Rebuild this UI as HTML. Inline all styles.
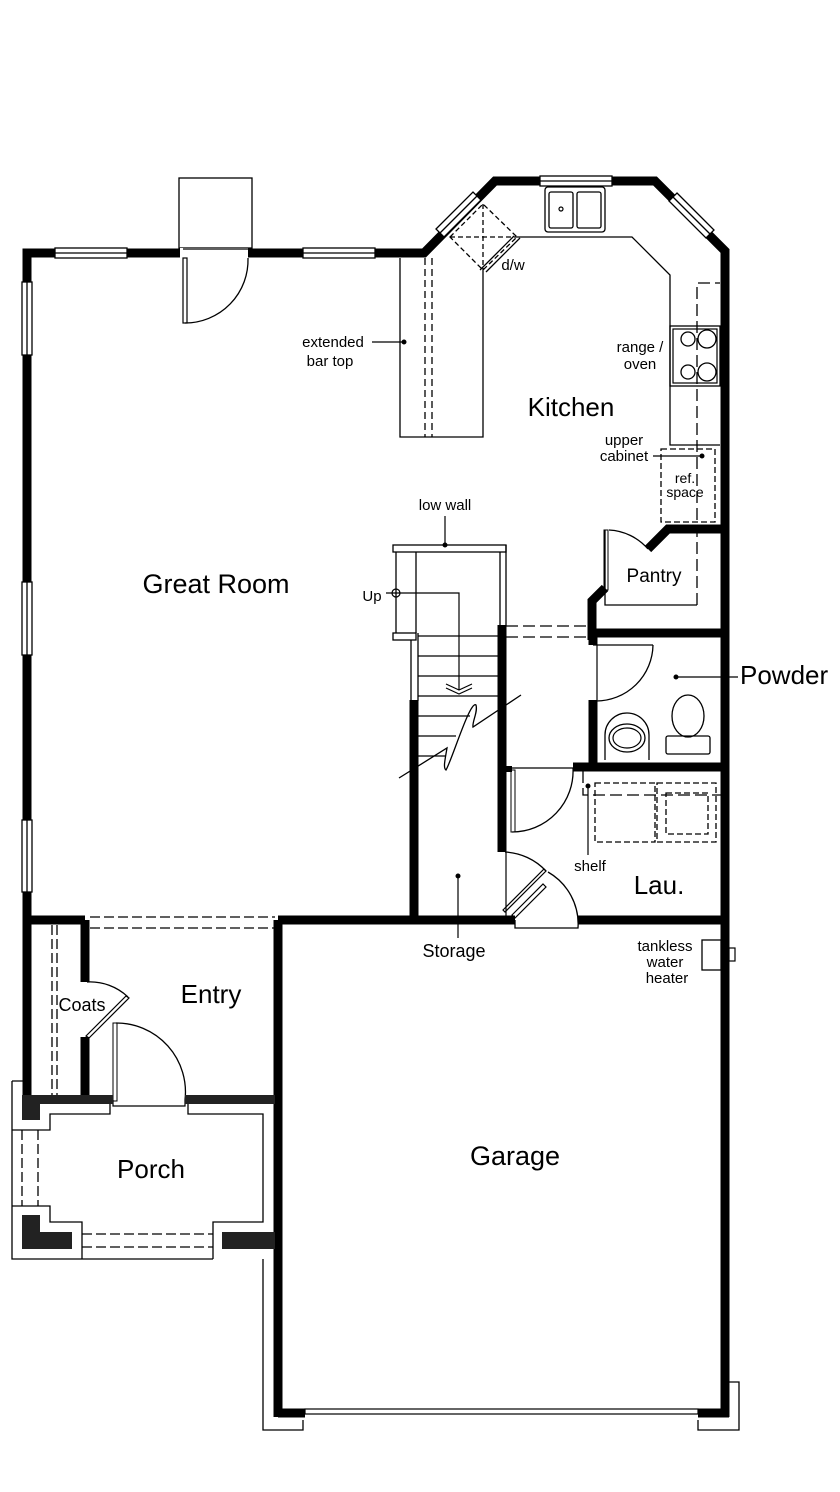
<!DOCTYPE html>
<html><head><meta charset="utf-8"><style>
html,body{margin:0;padding:0;background:#fff;}
svg{display:block;}
text{font-family:"Liberation Sans",sans-serif;fill:#000;}
</style></head><body>
<svg width="840" height="1492" viewBox="0 0 840 1492" xmlns="http://www.w3.org/2000/svg">
<g fill="none" stroke="#000">
<path d="M27 920 V253 H424 L495 181 H655 L725 251 V1417" stroke-width="9" stroke-linejoin="miter"/>
<g stroke-width="1.3" fill="#fff">
<rect x="55" y="248" width="72" height="10"/><line x1="55" y1="253" x2="127" y2="253"/>
<rect x="303" y="248" width="72" height="10"/><line x1="303" y1="253" x2="375" y2="253"/>
<rect x="22" y="282" width="10" height="73"/><line x1="27" y1="282" x2="27" y2="355"/>
<rect x="22" y="582" width="10" height="73"/><line x1="27" y1="582" x2="27" y2="655"/>
<rect x="22" y="820" width="10" height="72"/><line x1="27" y1="820" x2="27" y2="892"/>
<rect x="540" y="176" width="72" height="10"/><line x1="540" y1="181" x2="612" y2="181"/>
<path d="M436 229 L473 192 L481 200 L444 237 Z"/><line x1="440" y1="233" x2="477" y2="196"/>
<path d="M677 193 L714 230 L706 238 L669 201 Z"/><line x1="673" y1="197" x2="710" y2="234"/>
</g>
<rect x="179" y="178" width="73" height="70" stroke-width="1.3"/>
<rect x="180" y="248" width="68" height="10" fill="#fff" stroke="none"/>
<line x1="183" y1="249" x2="248" y2="249" stroke-width="1.3"/>
<rect x="183" y="258" width="4" height="65" stroke-width="1.2"/>
<path d="M185 323 A63 63 0 0 0 248 258" stroke-width="1.3"/>
<path d="M400 258 V437 H483 V270" stroke-width="1.3"/>
<path d="M425 258 V437 M432 258 V437" stroke-width="1.3" stroke-dasharray="7,4"/>
<path d="M450 237 L483 204 L517 237 L483 270 Z M450 237 H517 M483 204 V270" stroke-width="1.3" stroke-dasharray="5,3"/>
<path d="M480 270 L514 236 M486 272 L520 238" stroke-width="1.3"/>
<path d="M517 237 H632 L670 275 V445 H720" stroke-width="1.3"/>
<rect x="545" y="187" width="60" height="45" rx="3" stroke-width="1.3"/>
<rect x="549" y="192" width="24" height="36" rx="2" stroke-width="1.3"/>
<rect x="577" y="192" width="24" height="36" rx="2" stroke-width="1.3"/>
<circle cx="561" cy="209" r="2" stroke-width="1.2"/>
<rect x="670" y="326" width="50" height="60" stroke-width="1.3"/>
<rect x="673" y="329" width="44" height="54" stroke-width="1.2"/>
<circle cx="688" cy="339" r="7" stroke-width="1.3"/><circle cx="707" cy="339" r="9" stroke-width="1.3"/>
<circle cx="688" cy="372" r="7" stroke-width="1.3"/><circle cx="707" cy="372" r="9" stroke-width="1.3"/>
<path d="M697 605 V283 H720" stroke-width="1.3" stroke-dasharray="12,5"/>
<rect x="661" y="449" width="54" height="73" stroke-width="1.3" stroke-dasharray="6,3"/>
<line x1="653" y1="456" x2="702" y2="456" stroke-width="1.2"/>
<circle cx="702" cy="456" r="2" fill="#000"/>
<path d="M725 529 H668 L648 549 M605 588 L592 601 V640" stroke-width="9"/>
<path d="M697 605 H605 V530" stroke-width="1.3"/>
<path d="M609 530 A55 55 0 0 1 648 549" stroke-width="1.3"/>
<rect x="604" y="530" width="4" height="60" stroke-width="1"/>
<path d="M590 633 H725 M593 633 V645 M593 700 V767 M573 767 H725" stroke-width="9"/>
<path d="M593 645 H653" stroke-width="1.3"/>
<path d="M597 645 V700" stroke-width="1.2"/>
<path d="M653 645 A57 57 0 0 1 596 701" stroke-width="1.3"/>
<ellipse cx="688" cy="716" rx="16" ry="21" stroke-width="1.3"/>
<rect x="666" y="736" width="44" height="18" rx="2" stroke-width="1.3"/>
<path d="M605 760 V735 A22 22 0 0 1 649 735 V760" stroke-width="1.3"/>
<ellipse cx="627" cy="738" rx="18" ry="14" stroke-width="1.3"/>
<ellipse cx="627" cy="738" rx="14" ry="10" stroke-width="1.2"/>
<line x1="676" y1="677" x2="738" y2="677" stroke-width="1.2"/><circle cx="676" cy="677" r="2" fill="#000"/>
<rect x="393" y="545" width="113" height="7" stroke-width="1.3"/>
<path d="M500 552 V626 M506 545 V626" stroke-width="1.3"/>
<path d="M396 552 V633 M416 552 V633" stroke-width="1.3"/>
<rect x="393" y="633" width="23" height="7" stroke-width="1.3"/>
<path d="M411 640 V701 M418 633 V701" stroke-width="1.3"/>
<path d="M418 636 H500 M418 656 H500 M418 676 H500 M418 696 H500 M418 716 H470 M418 736 H456 M418 756 H446" stroke-width="1.3"/>
<path d="M399 778 L447 748 C445 760 443 768 446 770 C452 760 470 700 476 705 C478 712 472 722 473 727 L521 695" stroke-width="1.3"/>
<circle cx="396" cy="593" r="4" stroke-width="1.2"/>
<path d="M386 593 H459 V690" stroke-width="1.2"/>
<path d="M446 688 L459 694 L472 688 M446 684 L459 690 L472 684" stroke-width="1.2"/>
<line x1="445" y1="516" x2="445" y2="545" stroke-width="1.2"/><circle cx="445" cy="545" r="2" fill="#000"/>
<path d="M414 700 V920 M502 625 V852" stroke-width="9"/>
<path d="M506 626 H590 M506 637 H590" stroke-width="1.3" stroke-dasharray="12,5"/>
<rect x="511" y="770" width="4" height="62" stroke-width="1"/>
<path d="M506 768 H573 M573 768 A61 61 0 0 1 512 832" stroke-width="1.3"/>
<rect x="502" y="766" width="10" height="6" fill="#000" stroke="none"/>
<path d="M505 852 A60 60 0 0 1 546 871" stroke-width="1.3"/>
<path d="M503 910 L544 869 L546 871 L505 912 Z" stroke-width="1.2"/>
<path d="M515 917 L546 886 L549 889 L518 920 Z" stroke-width="1.2" transform="translate(-3,-2)"/>
<path d="M548 872 A60 60 0 0 1 578 928 H515 V920" stroke-width="1.3"/>
<line x1="506" y1="852" x2="506" y2="916" stroke-width="1.2"/>
<rect x="595" y="783" width="60" height="59" stroke-width="1.3" stroke-dasharray="6,3"/>
<rect x="657" y="783" width="59" height="59" stroke-width="1.3" stroke-dasharray="6,3"/>
<rect x="666" y="793" width="42" height="41" stroke-width="1.3" stroke-dasharray="6,3"/>
<path d="M583 771 V795 H725" stroke-width="1.3" stroke-dasharray="12,5"/>
<line x1="588" y1="786" x2="588" y2="855" stroke-width="1.2"/><circle cx="588" cy="786" r="2" fill="#000"/>
<line x1="458" y1="876" x2="458" y2="938" stroke-width="1.2"/><circle cx="458" cy="876" r="2" fill="#000"/>
<path d="M27 920 H85 M278 920 H515 M578 920 H725" stroke-width="9"/>
<path d="M90 917 H275 M90 928 H275" stroke-width="1.3" stroke-dasharray="10,4"/>
<rect x="702" y="940" width="19" height="30" stroke-width="1.3"/>
<rect x="729" y="948" width="6" height="13" stroke-width="1.2"/>
<path d="M27 915 V1100 M85 920 V982 M85 1037 V1100 M278 920 V1417 M278 1413 H305 M698 1413 H729" stroke-width="9"/>
<path d="M52 925 V1095 M57 925 V1095" stroke-width="1.3" stroke-dasharray="10,4"/>
<path d="M87 982 A55 55 0 0 1 128 997" stroke-width="1.3"/>
<path d="M86 1036 L126 996 L129 998 L89 1038 Z" stroke-width="1.2"/>
<rect x="113" y="1023" width="4" height="78" stroke-width="1"/>
<path d="M116 1023 A69 69 0 0 1 185 1100" stroke-width="1.3"/>
<path d="M113 1100 V1106 H185 V1100" stroke-width="1.2"/>
<g fill="#222" stroke="none">
<rect x="22" y="1095" width="91" height="9"/><rect x="185" y="1095" width="90" height="9"/>
<rect x="22" y="1095" width="18" height="25"/>
<rect x="22" y="1215" width="18" height="34"/><rect x="22" y="1232" width="50" height="17"/>
<rect x="222" y="1232" width="53" height="17"/>
</g>
<path d="M12 1130 H50 V1114 H110 V1104 M188 1104 V1114 H263 V1222 H213 V1259 M263 1259 V1430 H303 V1420 M12 1081 H23 M12 1081 V1259 H213 M12 1206 H50 V1222 H82 V1259" stroke-width="1.3"/>
<path d="M22 1130 V1206 M38 1130 V1206 M82 1234 H213 M82 1247 H213" stroke-width="1.3" stroke-dasharray="10,4"/>
<rect x="305" y="1409" width="393" height="5" stroke-width="1.2"/>
<path d="M698 1420 V1430 H739 V1382 H729" stroke-width="1.3"/>
<line x1="372" y1="342" x2="404" y2="342" stroke-width="1.2"/><circle cx="404" cy="342" r="2" fill="#000"/>
</g>
<g text-anchor="middle">
<text x="216" y="593" font-size="27">Great Room</text>
<text x="571" y="416" font-size="26">Kitchen</text>
<text x="211" y="1003" font-size="26">Entry</text>
<text x="151" y="1178" font-size="26">Porch</text>
<text x="515" y="1165" font-size="27">Garage</text>
<text x="659" y="894" font-size="26">Lau.</text>
<text x="654" y="582" font-size="19">Pantry</text>
<text x="454" y="957" font-size="18">Storage</text>
<text x="82" y="1011" font-size="18">Coats</text>
<text x="333" y="347" font-size="15">extended</text>
<text x="330" y="366" font-size="15">bar top</text>
<text x="513" y="270" font-size="15">d/w</text>
<text x="640" y="352" font-size="15">range /</text>
<text x="640" y="369" font-size="15">oven</text>
<text x="624" y="445" font-size="15">upper</text>
<text x="624" y="461" font-size="15">cabinet</text>
<text x="685" y="483" font-size="14">ref.</text>
<text x="685" y="497" font-size="14">space</text>
<text x="445" y="510" font-size="15">low wall</text>
<text x="372" y="601" font-size="15">Up</text>
<text x="590" y="871" font-size="15">shelf</text>
<text x="665" y="951" font-size="15">tankless</text>
<text x="665" y="967" font-size="15">water</text>
<text x="667" y="983" font-size="15">heater</text>
</g>
<text x="740" y="684" font-size="26">Powder</text>
</svg>
</body></html>
